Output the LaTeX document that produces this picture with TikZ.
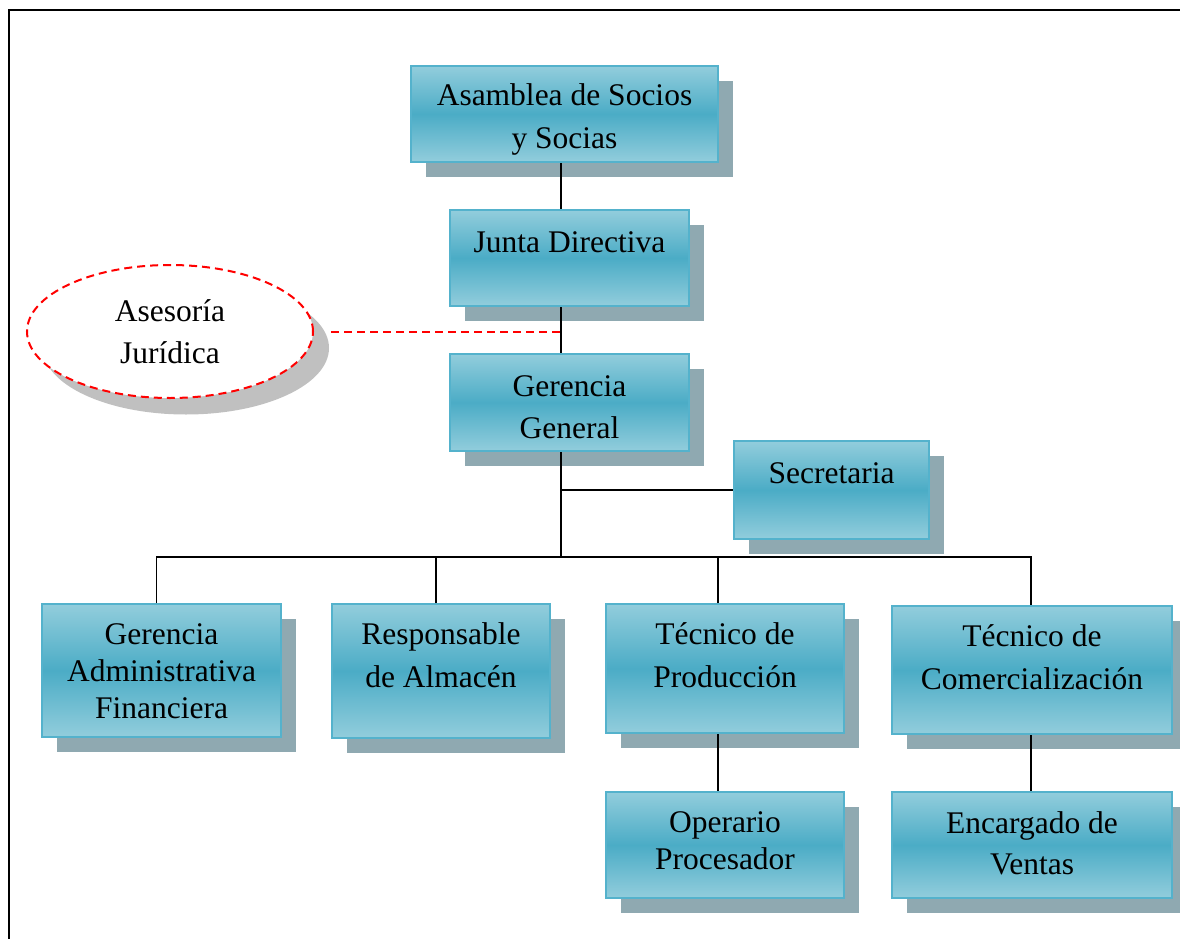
\documentclass[tikz,border=0pt]{standalone}
\usepackage{fontspec}
\setmainfont{Liberation Serif}
\usepackage{tikz}
\usepackage{xcolor}
\usetikzlibrary{shapes, positioning}

\definecolor{boxlight}{RGB}{146,205,220}
\definecolor{boxmid}{RGB}{75,172,198}
\definecolor{boxedge}{RGB}{84,178,204}
\definecolor{boxshadow}{RGB}{143,169,177}
\definecolor{ovalshadow}{RGB}{192,192,192}

\begin{document}
\begin{tikzpicture}[x=1pt, y=-1pt,
        orgbox/.style={draw=boxedge, line width=2pt, top color=boxlight, bottom color=boxlight, middle color=boxmid, inner sep=0pt, align=center, anchor=north west},
        link/.style={line width=1.5pt},
        asesor/.style={ellipse, draw=red, line width=2pt, dash pattern=on 8pt off 5pt, fill=white, minimum width=286pt, minimum height=133pt, inner sep=0pt, align=center, text width=200pt, text height=22pt, text depth=41.6pt, font=\fontsize{31.5}{41.3}\selectfont},
        linkdash/.style={draw=red, line width=2pt, dash pattern=on 8pt off 5pt}]
        \useasboundingbox (0,0) rectangle (1180,939);
        \draw[line width=2pt] (9,960) -- (9,10) -- (1200,10);

        \foreach \nm/\px/\py/\bw/\bh/\bb/\bs/\txt in {
            asam/410/65/307/96/40/43/{Asamblea de Socios\\y Socias},
            junta/449/209/239/96/42/42/{Junta Directiva},
            ger/449/353/239/97/42/42.5/{Gerencia\\General},
            secre/733/440/195/98/42/42/{Secretaria},
            gadm/41/603/239/133/40/37/{Gerencia\\Administrativa\\Financiera},
            resp/331/603/218/134/40/43.5/{Responsable\\de Almacén},
            tprod/605/603/238/129/40/43/{Técnico de\\Producción},
            tcom/891/605/280/128/40/43/{Técnico de\\Comercialización},
            oper/605/791/238/106/40/37.5/{Operario\\Procesador},
            venta/891/791/280/106/41/41.5/{Encargado de\\Ventas}} {
            \fill[boxshadow] (\px+16,\py+16) rectangle ++(\bw,\bh);
            \node[orgbox, text width=\bw pt, text height=\bb pt, text depth={\bh pt-\bb pt}, font=\fontsize{31.5}{\bs}\selectfont] (\nm) at (\px,\py) {\spaceskip=7.9pt\relax\txt};
        }

        \fill[ovalshadow] (186,348) ellipse [x radius=143, y radius=66.5];
        \node[asesor] (aseso) at (170,331.5) {Asesoría\\Jurídica};

        \coordinate (spine) at (561,0);
        \coordinate (bus) at (0,557);

        \draw[link] (asam.south -| spine) -- (junta.north -| spine)
            (junta.south -| spine) -- (ger.north -| spine)
            (ger.south -| spine) -- (spine |- bus)
            (secre.west -| spine) -- (secre.west);
        \draw[link] ([xshift=-5pt]gadm.north) -- ++(0,-46) -| ([xshift=-1pt]tcom.north);
        \draw[link] ([xshift=-5pt]resp.north) -- ++(0,-46)
            ([xshift=-7pt]tprod.north) -- ++(0,-46);
        \draw[link] ([xshift=-7pt]tprod.south) -- ([xshift=-7pt]oper.north)
            ([xshift=-1pt]tcom.south) -- ([xshift=-1pt]venta.north);
        \draw[linkdash] ([xshift=17pt]aseso.east) -- (aseso.east -| spine);
    \end{tikzpicture}
\end{document}
